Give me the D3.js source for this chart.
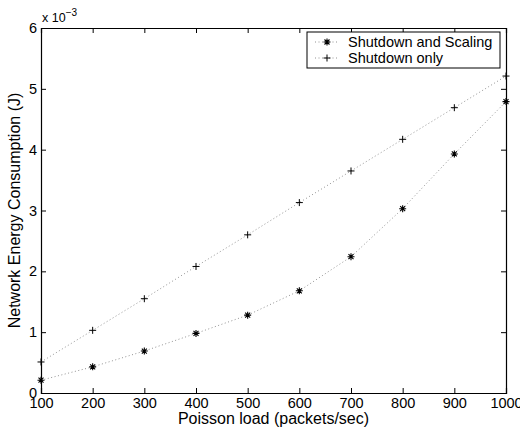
<!DOCTYPE html>
<html>
<head>
<meta charset="utf-8">
<script src="https://cdn.jsdelivr.net/npm/d3@7"></script>
<style>
  body { margin: 0; background: #fff; }
  text { font-family: "Liberation Sans", Arial, sans-serif; fill: #000; }
</style>
</head>
<body>
<div id="container"></div>
<script>
/** DATA */
const loads = [100, 200, 300, 400, 500, 600, 700, 800, 900, 1000];
const scalingEnergy = [0.21, 0.43, 0.69, 0.98, 1.28, 1.68, 2.24, 3.03, 3.93, 4.79]; // x 1e-3 J
const shutdownEnergy = [0.51, 1.03, 1.55, 2.08, 2.60, 3.13, 3.65, 4.17, 4.69, 5.21];
const xTicks = [100, 200, 300, 400, 500, 600, 700, 800, 900, 1000];
const yTicks = [0, 1, 2, 3, 4, 5, 6];
const seriesNames = ["Shutdown and Scaling", "Shutdown only"];

/** CONSTANTS */
const width = 520, height = 432;
const margin = { top: 28, right: 14, bottom: 39, left: 41 };

const svg = d3.select("#container").append("svg")
  .attr("width", width)
  .attr("height", height);

const x = d3.scaleLinear().domain([100, 1000]).range([margin.left, width - margin.right]);
const y = d3.scaleLinear().domain([0, 6]).range([height - margin.bottom, margin.top]);

// axes with inward ticks
const tick = 5;
const xAxis = svg.append("g")
  .attr("transform", `translate(0,${y(0)})`)
  .call(d3.axisBottom(x).tickValues(xTicks).tickSize(-tick).tickPadding(5).tickFormat(d3.format("d")));
const yAxis = svg.append("g")
  .attr("transform", `translate(${x(100)},0)`)
  .call(d3.axisLeft(y).tickValues(yTicks).tickSize(-tick).tickPadding(4).tickFormat(d3.format("d")));
const xTop = svg.append("g")
  .attr("transform", `translate(0,${y(6)})`)
  .call(d3.axisTop(x).tickValues(xTicks).tickSize(-tick).tickFormat(""));
const yRight = svg.append("g")
  .attr("transform", `translate(${x(1000)},0)`)
  .call(d3.axisRight(y).tickValues(yTicks).tickSize(-tick).tickFormat(""));

[xAxis, yAxis, xTop, yRight].forEach(g => {
  g.selectAll(".domain").attr("stroke", "#000").attr("stroke-width", 1.2);
  g.selectAll(".tick line").attr("stroke", "#000");
  g.selectAll("text").style("font-size", "14.5px").style("font-family", "Liberation Sans, Arial, sans-serif");
});

// exponent label
const expo = svg.append("text")
  .attr("x", x(100) + 1)
  .attr("y", y(6) - 6)
  .style("font-size", "12.5px");
expo.append("tspan").text("x 10");
expo.append("tspan").attr("dy", -6).style("font-size", "10px").text("\u22123");

// axis titles
svg.append("text")
  .attr("x", (x(100) + x(1000)) / 2)
  .attr("y", 424)
  .attr("text-anchor", "middle")
  .style("font-size", "16px")
  .text("Poisson load (packets/sec)");

svg.append("text")
  .attr("transform", `translate(20,${(y(0) + y(6)) / 2}) rotate(-90)`)
  .attr("text-anchor", "middle")
  .style("font-size", "16px")
  .text("Network Energy Consumption (J)");

// lines
const line = d3.line().x((d, i) => x(loads[i])).y(d => y(d));
[scalingEnergy, shutdownEnergy].forEach(s => {
  svg.append("path")
    .datum(s)
    .attr("d", line)
    .attr("fill", "none")
    .attr("stroke", "#777")
    .attr("stroke-width", 0.8)
    .attr("stroke-dasharray", "1,2.5");
});

// markers
function drawStar(g) {
  g.append("path").attr("d", "M-3.5,0H3.5M0,-3.5V3.5M-2.5,-2.5L2.5,2.5M-2.5,2.5L2.5,-2.5")
    .attr("stroke", "#000").attr("stroke-width", 1.1).attr("fill", "none");
}
function drawPlus(g) {
  g.append("path").attr("d", "M-3.5,0H3.5M0,-3.5V3.5")
    .attr("stroke", "#000").attr("stroke-width", 1).attr("fill", "none");
}

svg.selectAll(".star")
  .data(scalingEnergy)
  .join("g")
  .attr("class", "star")
  .attr("transform", (d, i) => `translate(${x(loads[i])},${y(d)})`)
  .each(function() { drawStar(d3.select(this)); });

svg.selectAll(".plus")
  .data(shutdownEnergy)
  .join("g")
  .attr("class", "plus")
  .attr("transform", (d, i) => `translate(${x(loads[i])},${y(d)})`)
  .each(function() { drawPlus(d3.select(this)); });

// legend
const legend = svg.append("g").attr("transform", "translate(307,32)");
legend.append("rect")
  .attr("width", 193).attr("height", 36)
  .attr("fill", "#fff").attr("stroke", "#000").attr("stroke-width", 1);

seriesNames.forEach((name, i) => {
  const ly = 10 + i * 16;
  legend.append("line")
    .attr("x1", 8).attr("x2", 32).attr("y1", ly).attr("y2", ly)
    .attr("stroke", "#777").attr("stroke-width", 0.8).attr("stroke-dasharray", "1,2.5");
  const m = legend.append("g").attr("transform", `translate(20,${ly})`);
  if (i === 0) drawStar(m); else drawPlus(m);
  legend.append("text")
    .attr("x", 41).attr("y", ly + 5)
    .style("font-size", "14.5px")
    .text(name);
});
</script>
</body>
</html>
